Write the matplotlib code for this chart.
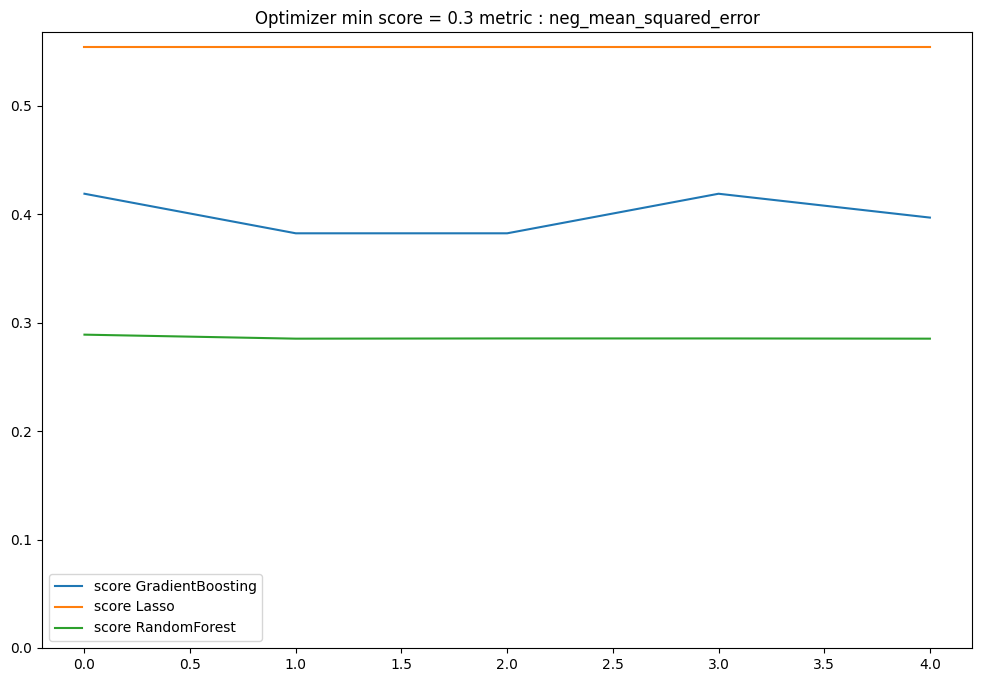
import matplotlib
matplotlib.use("Agg")
import matplotlib.pyplot as plt

# Scores par itération de l'optimiseur
iterations = [0, 1, 2, 3, 4]
score_gradient_boosting = [0.419, 0.3825, 0.3825, 0.419, 0.397]
score_lasso = [0.5547, 0.5547, 0.5547, 0.5547, 0.5547]
score_random_forest = [0.289, 0.2853, 0.2855, 0.2855, 0.2853]

fig, ax = plt.subplots(figsize=(9.81, 6.82), dpi=100)
ax.plot(iterations, score_gradient_boosting, label="score GradientBoosting")
ax.plot(iterations, score_lasso, label="score Lasso")
ax.plot(iterations, score_random_forest, label="score RandomForest")
ax.set_ylim(bottom=0)
ax.set_title("Optimizer min score = 0.3 metric : neg_mean_squared_error")
ax.legend(loc="lower left")

fig.subplots_adjust(left=0.043, right=0.991, top=0.953, bottom=0.050)
fig.savefig("out.png", dpi=100)
